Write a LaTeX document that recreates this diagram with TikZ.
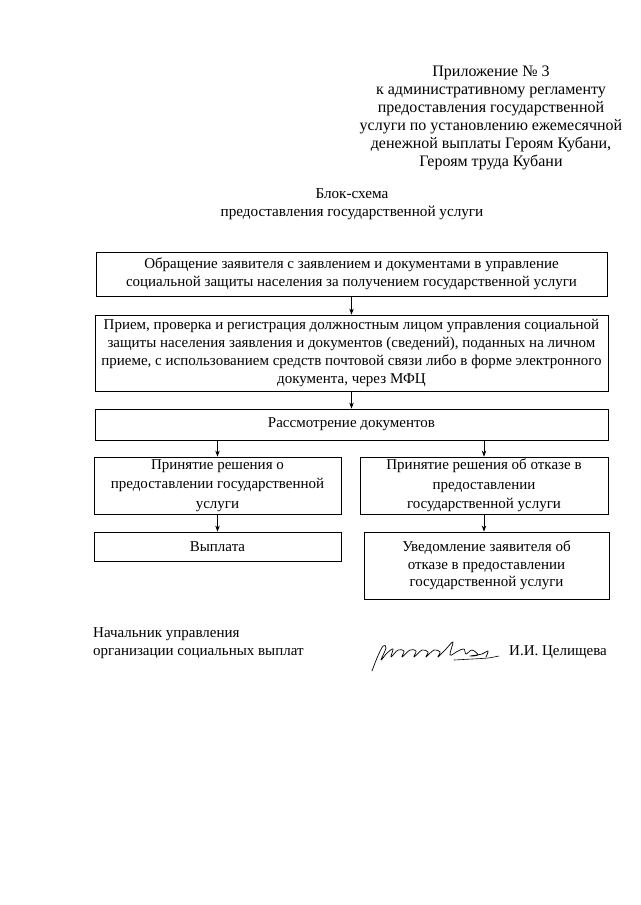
\documentclass[tikz,border=0pt]{standalone}
\usepackage{fontspec}
\setmainfont{Liberation Serif}
\usetikzlibrary{arrows.meta}
\begin{document}
\begin{tikzpicture}[x=1pt,y=-1pt,
  txt/.style={font=\fontsize{15}{18.3}\selectfont, inner sep=0pt, align=center},
  htxt/.style={font=\fontsize{16}{18}\selectfont, inner sep=0pt, align=center},
  box/.style={txt, draw, line width=0.8pt, minimum width=#1},
  arr/.style={line width=0.8pt, -{Stealth[length=6pt,width=4.5pt]}}]
\useasboundingbox[fill=white] (0,0) rectangle (640,905);

% header
\node[htxt] (hdr) at (491,118) {Приложение № 3\\к административному регламенту\\предоставления государственной\\услуги по установлению ежемесячной\\денежной выплаты Героям Кубани,\\Героям труда Кубани};
\node[txt, font=\fontsize{15.2}{17.8}\selectfont] (ttl) at (352,204.5) {Блок-схема\\предоставления государственной услуги};

% boxes
\node[box=511pt, minimum height=44pt] (b1) at (351.5,274) {Обращение заявителя с заявлением и документами в управление\\социальной защиты населения за получением государственной услуги};
\node[box=513pt, minimum height=76pt] (b2) at (351.5,353) {Прием, проверка и регистрация должностным лицом управления социальной\\защиты населения заявления и документов (сведений), поданных на личном\\приеме, с использованием средств почтовой связи либо в форме электронного\\документа, через МФЦ};
\node[box=513pt, minimum height=31pt] (b3) at (351.5,424.5) {Рассмотрение документов};
\node[box=247pt, minimum height=57pt, font=\fontsize{15}{19.3}\selectfont] (b4) at (217.5,485.5) {Принятие решения о\\предоставлении государственной\\услуги};
\node[box=248pt, minimum height=57pt, font=\fontsize{15}{19.3}\selectfont] (b5) at (484,485.5) {Принятие решения об отказе в\\предоставлении\\государственной услуги};
\node[box=247pt, minimum height=29pt] (b6) at (217.5,546.5) {Выплата};
\node[box=245pt, minimum height=67pt, font=\fontsize{15}{17.3}\selectfont] (b7) at (486.5,565.5) {Уведомление заявителя об\\отказе в предоставлении\\государственной услуги};

% arrows
\draw[arr] (b1.south) -- (b2.north);
\draw[arr] (b2.south) -- (b3.north);
\draw[arr] (b3.south -| b4.north) -- (b4.north);
\draw[arr] (b3.south -| b5.north) -- (b5.north);
\draw[arr] (b4.south) -- (b6.north);
\draw[arr] (b5.south) -- (b7.north -| b5.south);

% footer
\node[txt, align=left, anchor=west, font=\fontsize{15}{17.8}\selectfont] (pos) at (93,643) {Начальник управления\\организации социальных выплат};
\node[txt] (nm) at (558,652) {И.И. Целищева};

% signature
\draw[line width=0.7pt, line cap=round, line join=round] plot[smooth, tension=0.6] coordinates {
 (372,671) (377,658) (383,646) (386,648) (381,660) (387,653) (393,649) (391,657)
 (398,650) (404,651) (402,657) (410,650) (416,651) (414,657) (422,650) (428,652)
 (426,657) (434,650) (440,652) (438,657) (446,649) (453,642) (450,655) (458,651)
 (464,649) (466,654) (472,650) (478,655) (470,656) (482,654) (488,651) (486,657)};
\draw[line width=0.6pt, line cap=round] plot[smooth] coordinates {(454,660) (472,659) (488,658) (499,656)};
\end{tikzpicture}
\end{document}
